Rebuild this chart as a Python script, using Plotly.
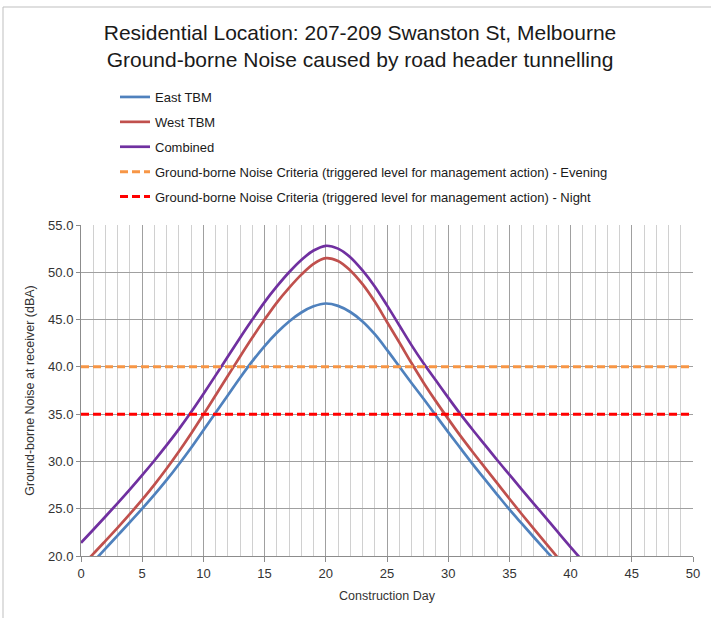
import plotly.graph_objects as go

days = list(range(0, 42))

east_tbm = [18.0, 19.38, 20.78, 22.18, 23.58, 25.0, 26.48, 28.04, 29.7, 31.45,
            33.3, 35.15, 37.0, 38.85, 40.6, 42.2, 43.6, 44.8, 45.75, 46.4,
            46.7, 46.45, 45.8, 44.8, 43.45, 41.8, 40.05, 38.3, 36.6, 34.85,
            33.1, 31.4, 29.72, 28.1, 26.5, 24.92, 23.44, 21.98, 20.54, 19.1,
            17.7, 16.3]

west_tbm = [18.9, 20.22, 21.6, 23.0, 24.45, 25.95, 27.55, 29.25, 31.05, 32.95,
            34.95, 37.0, 39.05, 41.1, 43.1, 45.0, 46.8, 48.35, 49.75, 50.9,
            51.5, 51.2, 50.2, 48.75, 46.9, 44.75, 42.6, 40.4, 38.3, 36.35,
            34.5, 32.7, 31.0, 29.35, 27.7, 26.05, 24.44, 22.86, 21.3, 19.75,
            18.2, 16.7]

combined = [21.4, 22.78, 24.18, 25.6, 27.05, 28.55, 30.1, 31.72, 33.42, 35.22,
            37.13, 39.1, 41.1, 43.08, 45.0, 46.85, 48.5, 50.0, 51.3, 52.3,
            52.8, 52.5, 51.6, 50.2, 48.5, 46.5, 44.4, 42.3, 40.35, 38.55,
            36.75, 35.0, 33.35, 31.75, 30.15, 28.6, 27.05, 25.52, 24.0, 22.47,
            20.95, 19.45]

criteria_x = [0, 50]
evening_level = [40.0, 40.0]
night_level = [35.0, 35.0]

names = ["East TBM", "West TBM", "Combined",
         "Ground-borne Noise Criteria (triggered level for management action) - Evening",
         "Ground-borne Noise Criteria (triggered level for management action) - Night"]

fig = go.Figure()
fig.add_trace(go.Scatter(x=days, y=east_tbm, mode="lines", name=names[0], legendgroup="a",
                         line=dict(color="#4F81BD", width=2.7, shape="spline", smoothing=1.0)))
fig.add_trace(go.Scatter(x=days, y=west_tbm, mode="lines", name=names[1], legendgroup="b",
                         line=dict(color="#C0504D", width=2.7, shape="spline", smoothing=1.0)))
fig.add_trace(go.Scatter(x=days, y=combined, mode="lines", name=names[2], legendgroup="c",
                         line=dict(color="#7030A0", width=2.7, shape="spline", smoothing=1.0)))
fig.add_trace(go.Scatter(x=criteria_x, y=evening_level, mode="lines", name=names[3], legendgroup="d",
                         line=dict(color="#F79646", width=3, dash="8px,4px")))
fig.add_trace(go.Scatter(x=criteria_x, y=night_level, mode="lines", name=names[4], legendgroup="e",
                         line=dict(color="#FF0000", width=3, dash="8px,4px")))

# chart border (left/top)
fig.add_shape(type="rect", xref="paper", yref="paper",
              x0=(3 - 81) / 612, x1=(730 - 81) / 612,
              y0=(556 - 640) / 331, y1=(556 - 7) / 331,
              line=dict(color="#BFBFBF", width=1), fillcolor="rgba(0,0,0,0)", layer="below")

fig.update_layout(
    width=711, height=618,
    margin=dict(l=81, r=18, t=225, b=62),
    paper_bgcolor="white", plot_bgcolor="white",
    font=dict(family="Liberation Sans, Arial, sans-serif", size=12, color="#333333"),
    title=dict(text="Residential Location: 207-209 Swanston St, Melbourne<br>Ground-borne Noise caused by road header tunnelling",
               x=360 / 711, xanchor="center", y=1 - 40 / 618, yanchor="top", yref="container",
               font=dict(family="Liberation Sans, Arial, sans-serif", size=21, color="#1a1a1a")),
    legend=dict(x=(115 - 81) / 612, xanchor="left", y=(556 - 82) / 331, yanchor="top",
                font=dict(family="Liberation Sans, Arial, sans-serif", size=13, color="#1a1a1a"),
                tracegroupgap=5, bgcolor="rgba(0,0,0,0)"),
    showlegend=True,
)

fig.update_xaxes(range=[0, 50], dtick=5, tick0=0, showgrid=True, gridcolor="#A0A0A0", gridwidth=1,
                 minor=dict(dtick=1, showgrid=True, gridcolor="#D0D0D0", gridwidth=1),
                 showline=True, linecolor="#8C8C8C", linewidth=1,
                 ticks="outside", ticklen=5, tickcolor="#8C8C8C",
                 zeroline=False, tickfont=dict(size=13, color="#333333"),
                 title=dict(text="Construction Day", font=dict(size=12.5, color="#333333"), standoff=11))
fig.update_yaxes(range=[20, 55], dtick=5, tick0=20, tickformat=".1f", showgrid=True,
                 gridcolor="#A0A0A0", gridwidth=1,
                 showline=True, linecolor="#8C8C8C", linewidth=1,
                 ticks="outside", ticklen=4, tickcolor="#8C8C8C",
                 zeroline=False, tickfont=dict(size=13, color="#333333"),
                 title=dict(text="Ground-borne Noise at receiver (dBA)", font=dict(size=12.5, color="#333333"), standoff=10))

fig.write_html("out.html", config={"displayModeBar": False},
               post_script="document.body.style.margin='0';")
